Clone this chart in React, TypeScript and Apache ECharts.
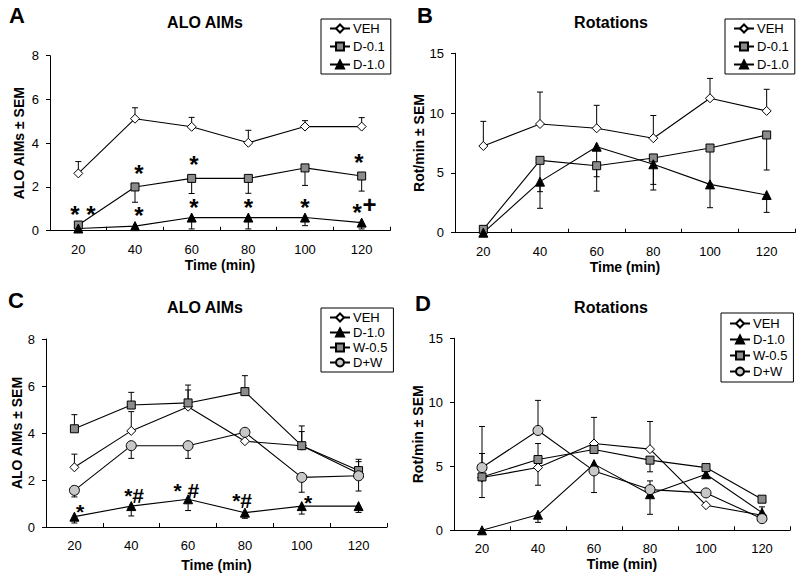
import React, { useEffect, useRef } from 'react';
import * as echarts from 'echarts';

// ---------- data ----------
const categories = ['20', '40', '60', '80', '100', '120'];

// Panel A: ALO AIMs
const aVeh = [2.62, 5.12, 4.75, 4.02, 4.76, 4.76];
const aVehErr = [0.54, 0.5, 0.43, 0.57, 0.27, 0.41];
const aD01 = [0.26, 2.0, 2.39, 2.39, 2.87, 2.5];
const aD01Err = [-0.1, -0.7, -0.69, -0.68, -0.8, -0.69];
const aD10 = [0.1, 0.21, 0.6, 0.6, 0.6, 0.37];
const aD10Err = [-0.05, -0.08, -0.52, -0.52, -0.37, -0.29];
const aNotes = [
  { cat: 0, y: 0.99, dx: 0.08, text: '* *' },
  { cat: 1, y: 2.85, dx: 0.07, text: '*' },
  { cat: 1, y: 0.94, dx: 0.07, text: '*' },
  { cat: 2, y: 3.26, dx: 0.04, text: '*' },
  { cat: 2, y: 1.3, dx: 0.04, text: '*' },
  { cat: 3, y: 1.3, dx: 0, text: '*' },
  { cat: 4, y: 1.3, dx: 0, text: '*' },
  { cat: 5, y: 3.35, dx: -0.05, text: '*' },
  { cat: 5, y: 1.08, dx: -0.08, text: '*' },
  { cat: 5, y: 1.2, dx: 0.14, text: '+' },
];

// Panel B: Rotations
const bVeh = [7.25, 9.09, 8.73, 7.9, 11.24, 10.18];
const bVehErr = [2.06, 2.67, 1.92, 1.9, 1.66, 1.81];
const bD01 = [0.28, 6.05, 5.6, 6.25, 7.08, 8.17];
const bD01Err = [0, -2.62, -0.92, -2.21, -3.0, -2.93];
const bD10 = [0, 4.27, 7.19, 5.72, 4.04, 3.15];
const bD10Err = [0, -2.23, -3.71, -2.15, -1.95, -1.45];

// Panel C: ALO AIMs
const cVeh = [2.54, 4.09, 5.12, 3.65, 3.46, 2.28];
const cVehErr = [0.56, 0.82, 0.71, 0.4, 0.6, 0.5];
const cD10 = [0.44, 0.89, 1.18, 0.61, 0.89, 0.89];
const cD10Err = [-0.27, -0.42, -0.48, -0.24, -0.34, -0.27];
const cW05 = [4.18, 5.19, 5.28, 5.76, 3.46, 2.4];
const cW05Err = [0.6, 0.54, 0.76, 0.68, 0.84, 0.48];
const cDW = [1.56, 3.46, 3.46, 4.03, 2.11, 2.18];
const cDWErr = [-0.28, -0.54, -0.54, -0.1, -0.63, -0.65];
const cNotes = [
  { cat: 0, y: 0.85, dx: 0.1, text: '*' },
  { cat: 1, y: 1.49, dx: 0.05, text: '*#' },
  { cat: 2, y: 1.7, dx: -0.03, text: '* #' },
  { cat: 3, y: 1.28, dx: -0.05, text: '*#' },
  { cat: 4, y: 1.23, dx: 0.11, text: '*' },
];

// Panel D: Rotations
const dVeh = [4.12, 4.9, 6.78, 6.34, 1.96, 1.17];
const dVehErr = [-1.56, -1.38, 2.04, 2.16, 0, 0];
const dD10 = [0, 1.22, 5.17, 2.82, 4.38, 1.38];
const dD10Err = [0, -0.6, 0, -1.57, 0, 0.45];
const dW05 = [4.17, 5.53, 6.31, 5.48, 4.9, 2.43];
const dW05Err = [1.83, 1.25, 0, -0.91, 0, 0];
const dDW = [4.9, 7.8, 4.64, 3.18, 2.92, 0.91];
const dDWErr = [3.21, 2.35, -1.69, 0.68, 0, 0];

// ---------- styling ----------
const FONT = 'Arial, "Liberation Sans", Helvetica, sans-serif';
const STYLE: Record<string, { symbol: string; size: number; fill: string }> = {
  VEH: { symbol: 'diamond', size: 9, fill: '#ffffff' },
  'D-0.1': { symbol: 'rect', size: 8, fill: '#8c8c8c' },
  'D-1.0': { symbol: 'triangle', size: 9, fill: '#000000' },
  'W-0.5': { symbol: 'rect', size: 8, fill: '#8c8c8c' },
  'D+W': { symbol: 'circle', size: 10, fill: '#c8c8c8' },
};

const grids = [
  { left: 50, top: 55.7, width: 340, height: 175 },
  { left: 455, top: 53.3, width: 340, height: 179.4 },
  { left: 46, top: 339, width: 341, height: 188 },
  { left: 454, top: 338.3, width: 336, height: 192 },
];

function lineSeries(name: string, g: number, values: number[]) {
  const s = STYLE[name];
  return {
    type: 'line',
    name,
    xAxisIndex: g,
    yAxisIndex: g,
    data: values,
    symbol: s.symbol,
    symbolSize: s.size,
    showAllSymbol: true,
    z: 3,
    lineStyle: { color: '#000', width: 1.1 },
    itemStyle: { color: s.fill, borderColor: '#000', borderWidth: 1 },
  };
}

function errSeries(g: number, values: number[], errs: number[]) {
  const data = values
    .map((v, i) => [i, v, v + errs[i]])
    .filter((d, i) => errs[i] !== 0);
  return {
    type: 'custom',
    xAxisIndex: g,
    yAxisIndex: g,
    z: 2,
    silent: true,
    data,
    renderItem: (params: any, api: any) => {
      const p0 = api.coord([api.value(0), api.value(1)]);
      const p1 = api.coord([api.value(0), api.value(2)]);
      return {
        type: 'group',
        children: [
          {
            type: 'line',
            shape: { x1: p0[0], y1: p0[1], x2: p1[0], y2: p1[1] },
            style: { stroke: '#000', lineWidth: 1 },
          },
          {
            type: 'line',
            shape: { x1: p1[0] - 3, y1: p1[1], x2: p1[0] + 3, y2: p1[1] },
            style: { stroke: '#000', lineWidth: 1 },
          },
        ],
      };
    },
  };
}

function noteSeries(g: number, notes: { cat: number; y: number; dx: number; text: string }[], size: number) {
  return {
    type: 'custom',
    xAxisIndex: g,
    yAxisIndex: g,
    z: 4,
    silent: true,
    data: notes.map((n) => [n.cat, n.y, n.dx]),
    renderItem: (params: any, api: any) => {
      const p = api.coord([api.value(0), api.value(1)]);
      const band = api.size([1, 0])[0];
      const text = notes[params.dataIndex].text;
      const shift = text === '+' ? 0 : text.indexOf('#') >= 0 ? 0.15 * size : 0.23 * size;
      return {
        type: 'text',
        x: p[0] + api.value(2) * band,
        y: p[1] + shift,
        style: {
          text,
          font: `bold ${size}px ${FONT}`,
          fill: '#000',
          textAlign: 'center',
          textVerticalAlign: 'middle',
        },
      };
    },
  };
}

function xAxis(g: number, nameGap: number) {
  return {
    type: 'category',
    gridIndex: g,
    data: categories,
    name: 'Time (min)',
    nameLocation: 'middle',
    nameGap,
    nameTextStyle: { fontFamily: FONT, fontWeight: 'bold', fontSize: 14, color: '#000' },
    axisLine: { lineStyle: { color: '#000', width: 1 } },
    axisTick: { show: true, inside: true, length: 4, interval: 0, lineStyle: { color: '#000' } },
    axisLabel: { interval: 0, margin: 12, fontFamily: FONT, fontSize: 13, color: '#000' },
    splitLine: { show: false },
  };
}

function yAxis(g: number, name: string, max: number, interval: number, nameGap: number) {
  return {
    type: 'value',
    gridIndex: g,
    min: 0,
    max,
    interval,
    name,
    nameLocation: 'middle',
    nameRotate: 90,
    nameGap,
    nameTextStyle: { fontFamily: FONT, fontWeight: 'bold', fontSize: 14, color: '#000' },
    axisLine: { show: true, lineStyle: { color: '#000', width: 1 } },
    axisTick: { show: true, inside: false, length: 4, lineStyle: { color: '#000' } },
    axisLabel: { margin: 11, fontFamily: FONT, fontSize: 13, color: '#000' },
    splitLine: { show: false },
  };
}

function legend(names: string[], left: number, top: number, gap: number, pad: number) {
  return {
    data: names,
    orient: 'vertical',
    left,
    top,
    padding: [pad, 6, pad, 8],
    itemGap: gap,
    itemWidth: 20,
    itemHeight: 10,
    borderColor: '#000',
    borderWidth: 1,
    backgroundColor: '#fff',
    selectedMode: false,
    textStyle: { fontFamily: FONT, fontSize: 13, color: '#000', padding: [0, 0, 0, -2] },
  };
}

function label(text: string, x: number, y: number, size: number, align = 'center') {
  return {
    type: 'text',
    x,
    y,
    z: 10,
    style: {
      text,
      font: `bold ${size}px ${FONT}`,
      fill: '#000',
      textAlign: align,
      textVerticalAlign: 'middle',
    },
  };
}

export default function App() {
  const ref = useRef<HTMLDivElement>(null);
  useEffect(() => {
    if (!ref.current) return;
    const chart = echarts.init(ref.current, undefined, { renderer: 'svg' });
    const option: any = {
      animation: false,
      backgroundColor: '#fff',
      grid: grids.map((g) => ({ ...g, containLabel: false })),
      xAxis: [xAxis(0, 27), xAxis(1, 27), xAxis(2, 31), xAxis(3, 27)],
      yAxis: [
        yAxis(0, 'ALO AIMs ± SEM', 8, 2, 24),
        yAxis(1, 'Rot/min ± SEM', 15, 5, 23),
        yAxis(2, 'ALO AIMs ± SEM', 8, 2, 21),
        yAxis(3, 'Rot/min ± SEM', 15, 5, 22),
      ],
      legend: [
        legend(['VEH', 'D-0.1', 'D-1.0'], 321, 19, 5, 3),
        legend(['VEH', 'D-0.1', 'D-1.0'], 725, 19, 5, 3),
        legend(['VEH', 'D-1.0', 'W-0.5', 'D+W'], 321, 308, 2, 3),
        legend(['VEH', 'D-1.0', 'W-0.5', 'D+W'], 721, 313, 3, 4),
      ],
      graphic: [
        label('A', 17, 15, 22),
        label('B', 425, 15, 22),
        label('C', 16, 300, 22),
        label('D', 423, 303, 22),
        label('ALO AIMs', 205, 22, 16),
        label('Rotations', 611, 22, 16),
        label('ALO AIMs', 205, 307, 16),
        label('Rotations', 611, 307, 16),
      ],
      series: [
        errSeries(0, aVeh, aVehErr),
        errSeries(0, aD01, aD01Err),
        errSeries(0, aD10, aD10Err),
        lineSeries('VEH', 0, aVeh),
        lineSeries('D-0.1', 0, aD01),
        lineSeries('D-1.0', 0, aD10),
        noteSeries(0, aNotes, 24),

        errSeries(1, bVeh, bVehErr),
        errSeries(1, bD01, bD01Err),
        errSeries(1, bD10, bD10Err),
        lineSeries('VEH', 1, bVeh),
        lineSeries('D-0.1', 1, bD01),
        lineSeries('D-1.0', 1, bD10),

        errSeries(2, cVeh, cVehErr),
        errSeries(2, cD10, cD10Err),
        errSeries(2, cW05, cW05Err),
        errSeries(2, cDW, cDWErr),
        lineSeries('VEH', 2, cVeh),
        lineSeries('D-1.0', 2, cD10),
        lineSeries('W-0.5', 2, cW05),
        lineSeries('D+W', 2, cDW),
        noteSeries(2, cNotes, 21),

        errSeries(3, dVeh, dVehErr),
        errSeries(3, dD10, dD10Err),
        errSeries(3, dW05, dW05Err),
        errSeries(3, dDW, dDWErr),
        lineSeries('VEH', 3, dVeh),
        lineSeries('D-1.0', 3, dD10),
        lineSeries('W-0.5', 3, dW05),
        lineSeries('D+W', 3, dDW),
      ],
    };
    chart.setOption(option);
    return () => chart.dispose();
  }, []);
  return (
    <div
      ref={ref}
      style={{ position: 'absolute', left: 0, top: 0, width: 800, height: 576, background: '#fff' }}
    />
  );
}
